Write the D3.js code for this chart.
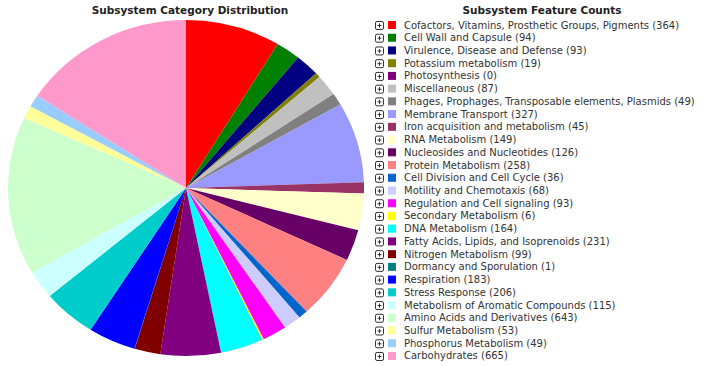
<!DOCTYPE html>
<html>
<head>
    <style>
        body { margin: 0; background: #fff; }
        .title { font: bold 10.5px "DejaVu Sans", sans-serif; fill: #222; text-anchor: middle; }
        .legend text { font: 10px "DejaVu Sans", sans-serif; fill: #333; }
    </style>
    <script src="https://d3js.org/d3.v7.min.js"></script>
</head>
<body>
    <svg width="714" height="366"></svg>
    <script>
        var categories = [
            "Cofactors, Vitamins, Prosthetic Groups, Pigments",
            "Cell Wall and Capsule",
            "Virulence, Disease and Defense",
            "Potassium metabolism",
            "Photosynthesis",
            "Miscellaneous",
            "Phages, Prophages, Transposable elements, Plasmids",
            "Membrane Transport",
            "Iron acquisition and metabolism",
            "RNA Metabolism",
            "Nucleosides and Nucleotides",
            "Protein Metabolism",
            "Cell Division and Cell Cycle",
            "Motility and Chemotaxis",
            "Regulation and Cell signaling",
            "Secondary Metabolism",
            "DNA Metabolism",
            "Fatty Acids, Lipids, and Isoprenoids",
            "Nitrogen Metabolism",
            "Dormancy and Sporulation",
            "Respiration",
            "Stress Response",
            "Metabolism of Aromatic Compounds",
            "Amino Acids and Derivatives",
            "Sulfur Metabolism",
            "Phosphorus Metabolism",
            "Carbohydrates"
        ];
        var counts = [364, 94, 93, 19, 0, 87, 49, 327, 45, 149, 126, 258, 36, 68, 93, 6,
                      164, 231, 99, 1, 183, 206, 115, 643, 53, 49, 665];
        var palette = ["#ff0000", "#008000", "#000080", "#808000", "#800080", "#c0c0c0",
                       "#808080", "#9999ff", "#993366", "#ffffcc", "#660066", "#ff8080",
                       "#0066cc", "#ccccff", "#ff00ff", "#ffff00", "#00ffff", "#800080",
                       "#800000", "#008080", "#0000ff", "#00cccc", "#ccffff", "#ccffcc",
                       "#ffff99", "#99ccff", "#ff99cc"];

        var svg = d3.select("svg");

        var color = d3.scaleOrdinal().domain(categories).range(palette);

        var rx = 178, ry = 168;

        var pie = d3.pie()
                    .sort(null)
                    .value(function(d) { return d.count; });

        var data = categories.map(function(c, i) { return {name: c, count: counts[i]}; });

        var arc = d3.arc().innerRadius(0).outerRadius(ry);

        // the original pie is slightly stretched horizontally
        var g = svg.append("g")
                   .attr("transform", "translate(186,188) scale(" + (rx / ry) + ",1)");

        g.selectAll("path")
         .data(pie(data))
         .enter().append("path")
         .attr("d", arc)
         .attr("fill", function(d) { return color(d.data.name); });

        svg.append("text")
           .attr("class", "title")
           .attr("x", 190)
           .attr("y", 14)
           .text("Subsystem Category Distribution");

        svg.append("text")
           .attr("class", "title")
           .attr("x", 542)
           .attr("y", 14)
           .text("Subsystem Feature Counts");

        var y = d3.scaleBand().domain(categories).range([19, 19 + 12.73 * categories.length]);

        var row = svg.append("g")
                     .attr("class", "legend")
                     .selectAll("g")
                     .data(data)
                     .enter().append("g")
                     .attr("transform", function(d) { return "translate(0," + y(d.name) + ")"; });

        // expand box with plus sign
        row.append("rect")
           .attr("x", 375.5).attr("y", 2.5)
           .attr("width", 8).attr("height", 8)
           .attr("rx", 1.5)
           .attr("fill", "#fff")
           .attr("stroke", "#333");
        row.append("path")
           .attr("d", "M377.5,6.5h4M379.5,4.5v4")
           .attr("stroke", "#333");

        row.append("rect")
           .attr("x", 388).attr("y", 2)
           .attr("width", 8).attr("height", 8)
           .attr("fill", function(d) { return color(d.name); });

        row.append("text")
           .attr("x", 404)
           .attr("y", 9.5)
           .text(function(d) { return d.name + " (" + d.count + ")"; });
    </script>
</body>
</html>
